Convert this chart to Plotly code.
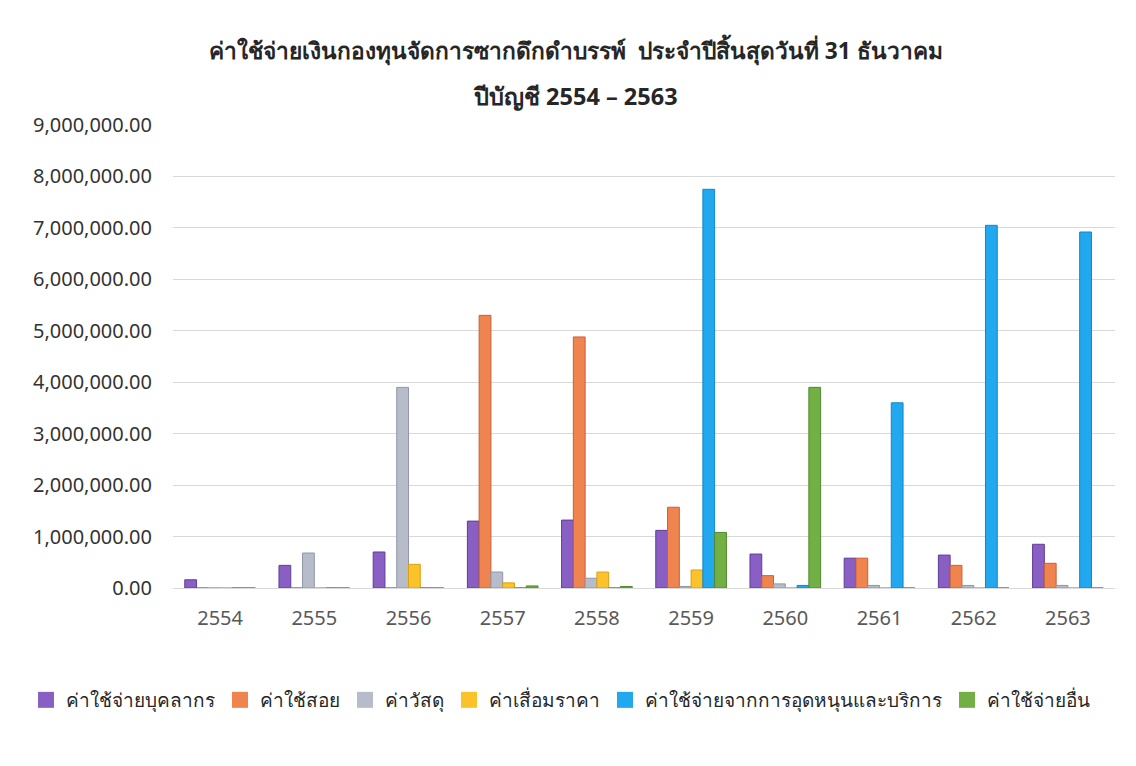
import plotly.graph_objects as go

years = ["2554", "2555", "2556", "2557", "2558", "2559", "2560", "2561", "2562", "2563"]

personnel = [160000, 440000, 700000, 1300000, 1320000, 1120000, 660000, 580000, 640000, 850000]
operating = [0, 0, 0, 5300000, 4880000, 1570000, 240000, 580000, 440000, 480000]
materials = [0, 680000, 3900000, 310000, 190000, 30000, 80000, 50000, 50000, 50000]
depreciation = [0, 0, 460000, 100000, 310000, 350000, 0, 0, 0, 0]
subsidy = [0, 0, 0, 0, 0, 7750000, 50000, 3600000, 7050000, 6920000]
other = [0, 0, 0, 40000, 30000, 1080000, 3900000, 0, 0, 0]

series_names = [
    "ค่าใช้จ่ายบุคลากร",
    "ค่าใช้สอย",
    "ค่าวัสดุ",
    "ค่าเสื่อมราคา",
    "ค่าใช้จ่ายจากการอุดหนุนและบริการ",
    "ค่าใช้จ่ายอื่น",
]
series_values = [personnel, operating, materials, depreciation, subsidy, other]
colors = ["#8a5fc4", "#f0844e", "#b7bccb", "#fbc22a", "#21a8ee", "#72b046"]
edge = ["#5e3d96", "#c8603a", "#9097a8", "#d9a014", "#1386c4", "#4f8a2e"]

title_line1 = "ค่าใช้จ่ายเงินกองทุนจัดการซากดึกดำบรรพ์  ประจำปีสิ้นสุดวันที่ 31 ธันวาคม"
title_line2 = "ปีบัญชี 2554 – 2563"

fig = go.Figure()
for name, vals, c, e in zip(series_names, series_values, colors, edge):
    fig.add_trace(go.Bar(
        x=years, y=vals, name=name, legendgroup=name, showlegend=False,
        marker=dict(color=c, line=dict(color=e, width=1)),
    ))
# legend-only entries with larger square swatches
for name, c in zip(series_names, colors):
    fig.add_trace(go.Scatter(
        x=[None], y=[None], name=name, legendgroup=name, mode="markers",
        marker=dict(symbol="square", size=16, color=c, line=dict(width=0)),
        showlegend=True, hoverinfo="skip",
    ))

font_family = "Noto Sans, DejaVu Sans, sans-serif"

# page has an 8px body margin, so the figure is drawn 8px smaller
W, H = 1128, 758
L, R, T, B = 165, 21, 117, 178
plot_h = H - T - B
plot_w = W - L - R

def py(page_y):
    return ((H - B) - (page_y - 8)) / plot_h

def px(page_x):
    return ((page_x - 8) - L) / plot_w

fig.update_layout(
    width=W, height=H,
    margin=dict(l=L, r=R, t=T, b=B, autoexpand=False),
    paper_bgcolor="white", plot_bgcolor="white",
    barmode="group", bargap=0.25, bargroupgap=0,
    font=dict(family=font_family, color="#262626"),
    showlegend=True,
    legend=dict(
        orientation="h", x=px(26), xanchor="left",
        y=py(700), yanchor="middle",
        font=dict(size=19, color="#262626"),
        itemwidth=30, tracegroupgap=0,
    ),
    annotations=[
        dict(text="<b>" + title_line1 + "</b>", xref="paper", yref="paper",
             x=px(576), y=py(50), showarrow=False,
             xanchor="center", yanchor="middle",
             font=dict(size=22.7, color="#262626")),
        dict(text="<b>" + title_line2 + "</b>", xref="paper", yref="paper",
             x=px(575), y=py(96), showarrow=False,
             xanchor="center", yanchor="middle",
             font=dict(size=23.5, color="#262626")),
    ],
)

fig.update_yaxes(
    range=[0, 9000000], dtick=1000000, tickformat=",.2f",
    showgrid=True, gridcolor="#d9d9d9", gridwidth=1,
    zeroline=False, showline=False,
    tickfont=dict(size=20, color="#333333"),
    ticks="", ticklabelstandoff=20,
)
fig.update_xaxes(
    type="category", tickangle=0,
    showline=True, linecolor="#d9d9d9", linewidth=1,
    tickfont=dict(size=20, color="#595959"),
    ticks="", ticklabelstandoff=12,
)

fig.write_html("out.html")
